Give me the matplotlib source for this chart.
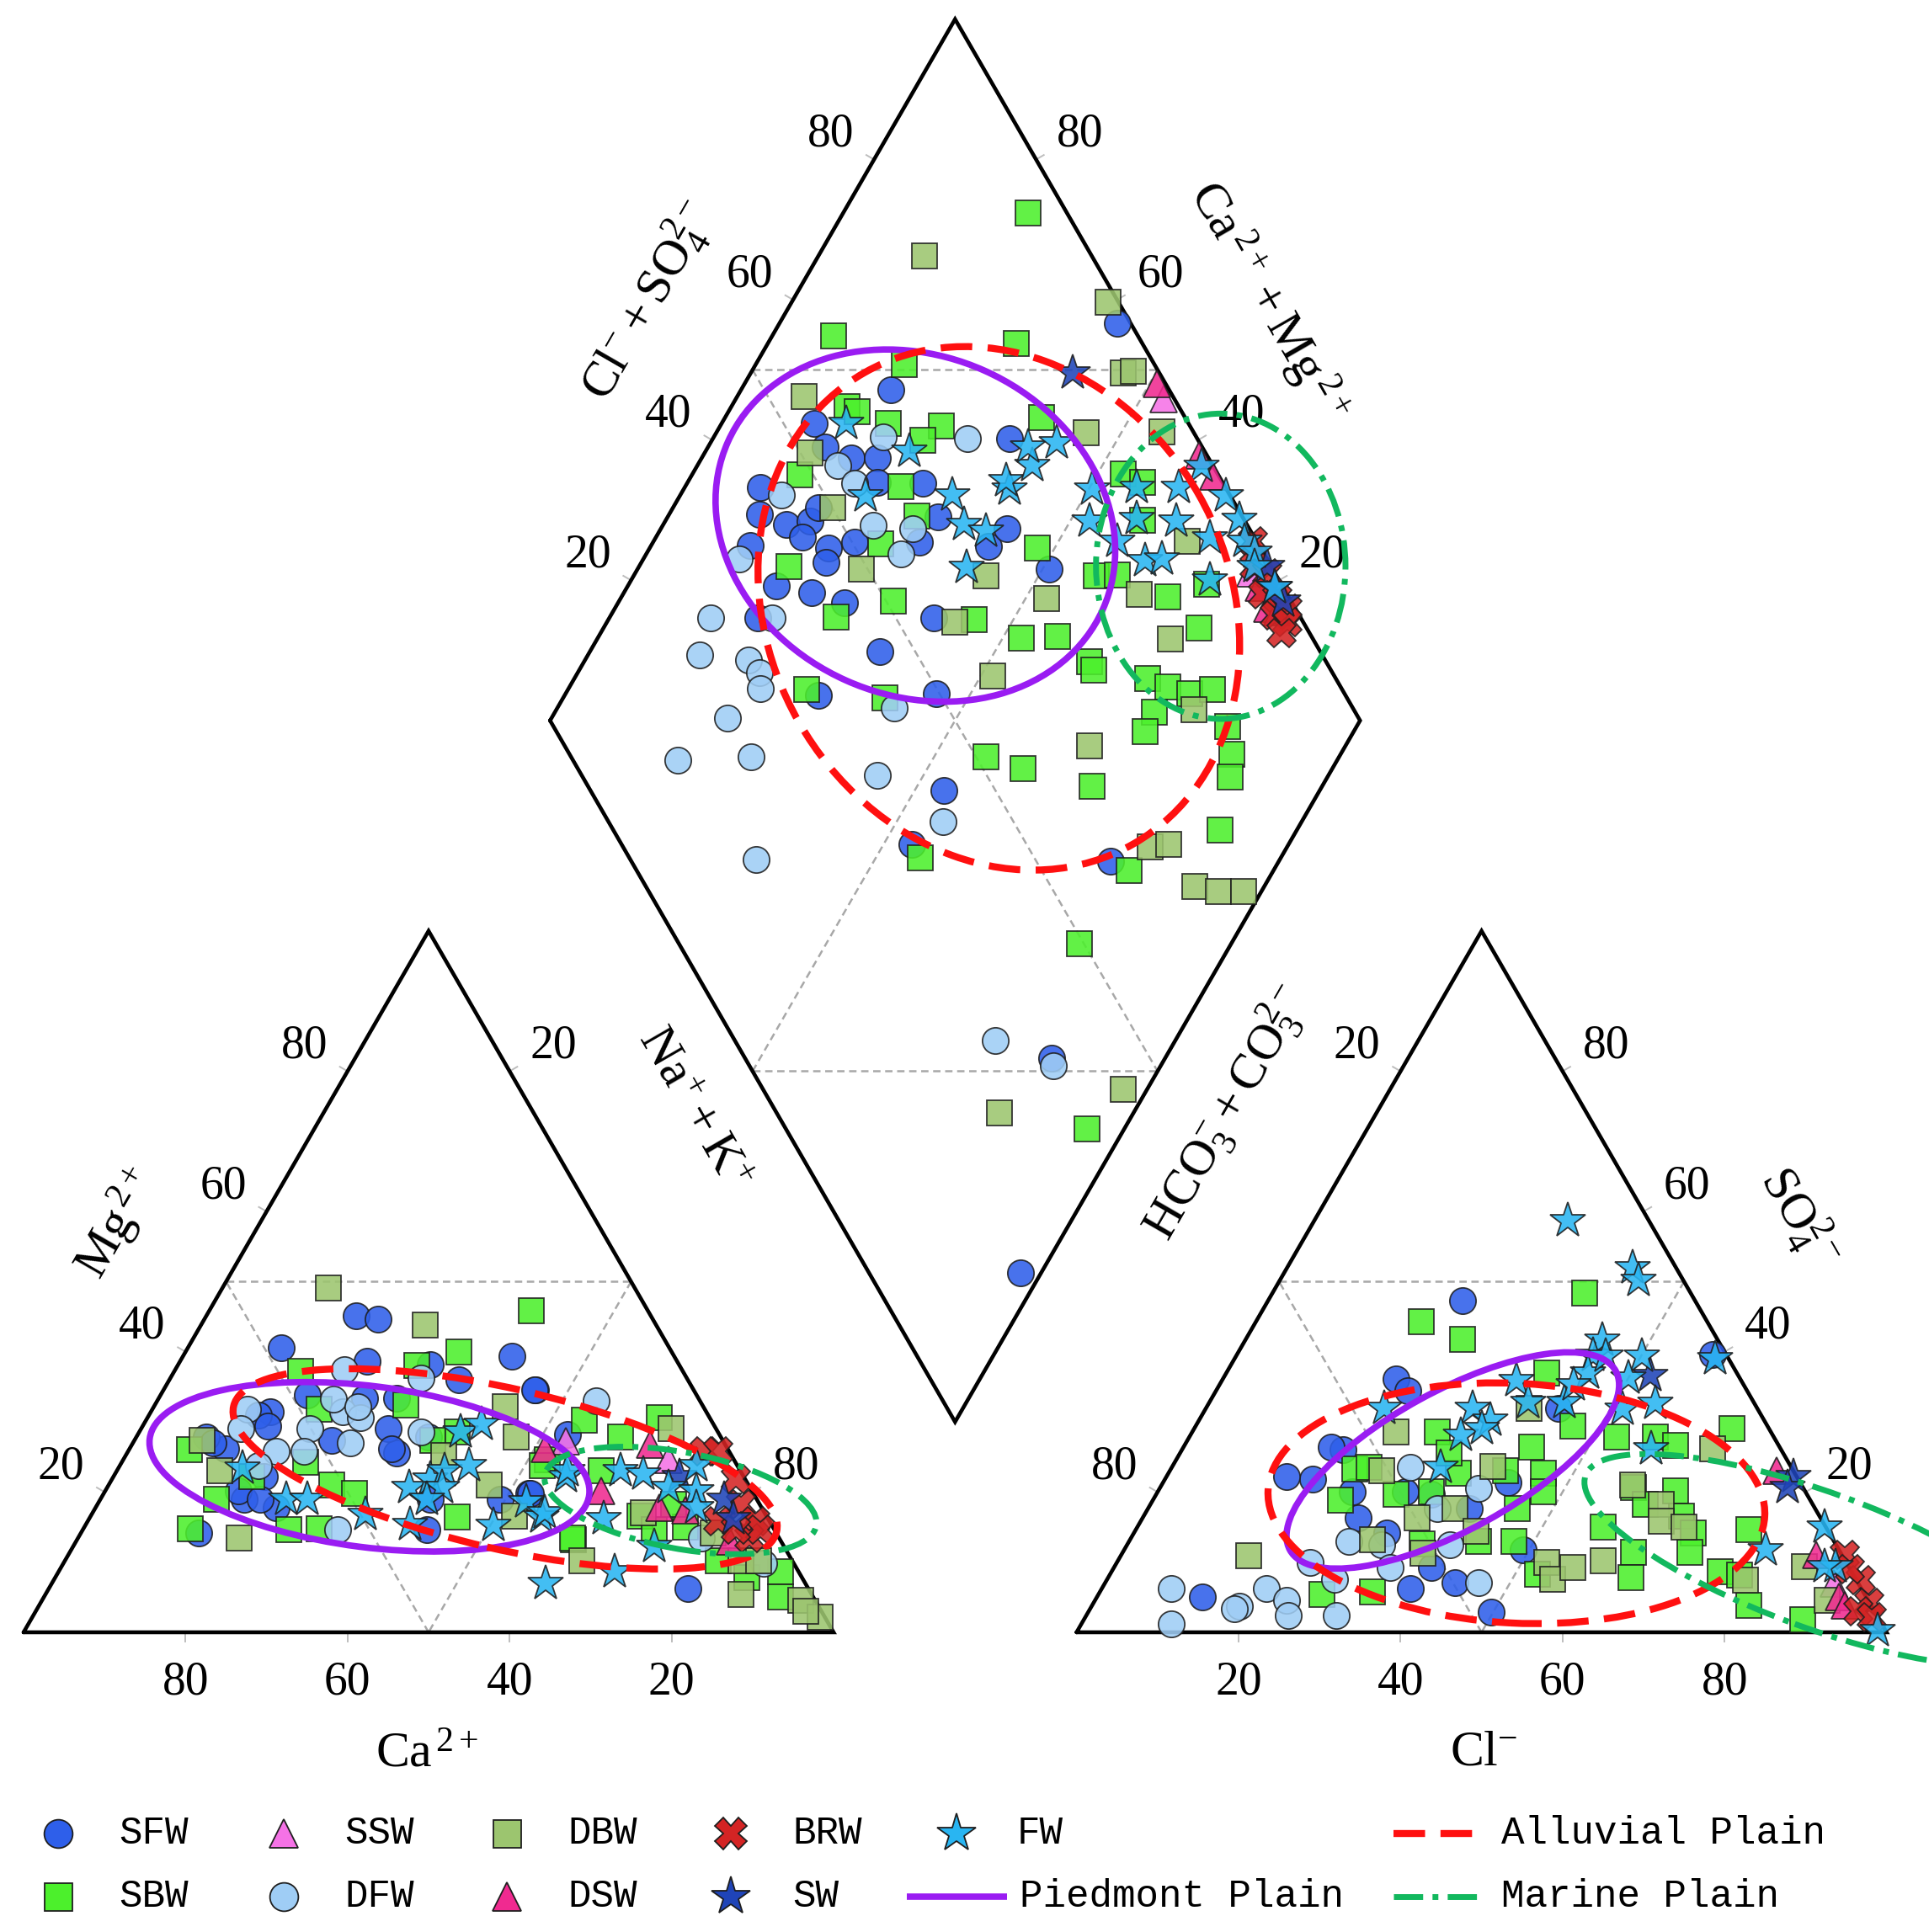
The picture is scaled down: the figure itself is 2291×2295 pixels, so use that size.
import numpy as np
import matplotlib
matplotlib.use("Agg")
import matplotlib.pyplot as plt
from matplotlib.patches import Ellipse

plt.rcParams["font.family"] = ["Liberation Serif", "DejaVu Serif"]
plt.rcParams["mathtext.fontset"] = "custom"
plt.rcParams["mathtext.rm"] = "Liberation Serif"
plt.rcParams["mathtext.it"] = "Liberation Serif:italic"
plt.rcParams["mathtext.bf"] = "Liberation Serif:bold"

# ---------------- data (percent of meq) ----------------
# cation triangle: (Ca2+, Mg2+); Na+ + K+ = 100 - Ca - Mg
SFW_cation = [(36.4,45.1),(33.9,44.7),(47.9,40.6),(38.3,38.6),(20.0,39.4),(28.3,36.0),(19.5,34.6),
              (53.8,31.4),(41.2,33.4),(37.2,33.4),(41.1,25.6),(36.1,27.8),(71.3,14.2),(62.0,26.2),
              (63.3,19.0),(59.2,22.2),(59.9,17.8),(42.9,14.6),(40.3,19.0),(48.3,27.4),(27.7,19.8),
              (63.5,27.8),(63.1,27.0),(63.4,20.2),(61.3,19.0),(31.7,19.0),(19.6,34.6),(14.9,6.2),
              (18.8,28.2),(27.5,19.8),(55.5,31.0),(55.2,29.4),(48.1,33.8),(40.5,29.0),(41.5,26.2),
              (30.7,38.2)]
SBW_cation = [(14.4,45.8),(26.3,40.0),(32.5,38.0),(47.2,37.2),(66.5,26.0),(66.7,19.0),(72.0,14.8),
              (60.0,14.6),(56.1,14.8),(53.1,24.2),(51.5,21.0),(49.2,19.8),(36.6,32.4),(32.2,28.6),
              (38.3,16.4),(15.7,30.2),(25.5,13.2),(23.0,24.6),(47.6,31.8),(35.8,27.4),(60.7,22.2),
              (6.2,30.6),(12.4,27.8),(24.1,23.8),(25.5,13.4),(15.6,16.6),(14.8,14.6),(10.8,15.0),
              (9.1,10.2),(6.8,7.8),(2.2,8.6),(4.0,5.0),(17.2,23.0),(10.6,18.2)]
SSW_cation = [(19.5,27.2),(8.1,24.6)]
DFW_cation = [(41.7,37.4),(32.8,36.2),(56.4,31.8),(58.7,29.0),(44.9,31.4),(43.1,30.6),(50.2,29.0),
              (55.9,25.8),(52.5,25.8),(46.2,27.0),(36.6,28.6),(53.9,14.6),(59.1,23.8),(12.8,33.0),
              (9.6,13.4),(3.7,9.8),(45.1,33.2),(42.6,32.2)]
DBW_cation = [(37.8,49.1),(28.5,43.8),(64.3,27.4),(64.3,23.0),(66.7,13.4),(24.4,32.2),(25.3,27.8),
              (35.5,25.2),(32.0,21.0),(31.1,16.6),(26.0,10.2),(5.6,29.0),(15.0,17.0),(7.8,14.2),
              (6.3,10.2),(8.7,5.4),(1.8,4.6),(0.6,2.2),(4.2,10.2),(1.9,3.0)]
DSW_cation = [(22.6,26.2),(18.6,20.2),(9.3,26.8),(12.6,17.8),(9.6,17.4),(6.3,13.0)]
BRW_cation = [(3.0,25.8),(1.3,25.8),(1.2,21.8),(2.3,18.2),(1.8,15.8),(3.7,13.4),(1.7,14.6),
              (6.3,15.8),(4.8,14.6)]
SW_cation = [(4.0,19.0),(4.3,16.2),(7.9,22.2)]
FW_cation = [(61.3,23.4),(58.1,19.0),(55.5,19.0),(49.4,16.8),(44.6,15.4),(42.1,20.6),(38.9,21.8),
             (36.5,23.0),(31.8,28.6),(28.7,29.6),(33.1,23.8),(34.4,15.2),(28.6,18.6),(32.1,7.0),
             (27.9,16.4),(22.0,22.2),(38.0,20.6),(40.7,19.0),(22.7,8.6),(16.0,12.2),(21.4,23.0),
             (14.8,23.0),(12.2,22.6),(10.1,20.6),(6.8,20.2),(20.3,16.2),(5.0,23.8),(27.2,17.0),
             (8.0,17.8)]

# anion triangle: (Cl-, SO4 2-); HCO3- + CO3 2- = 100 - Cl - SO4
SFW_anion = [(24.0,47.3),(21.4,36.1),(23.7,34.4),(19.9,26.0),(18.3,21.8),(14.8,22.2),(26.6,16.3),
             (31.2,14.2),(38.1,6.2),(39.2,9.2),(43.2,7.1),(49.7,2.9),(13.0,5.0),(42.6,21.4),
             (49.3,11.7),(39.7,17.6),(34.0,19.7),(30.5,20.1),(43.6,31.9),(24.0,20.1),(18.2,26.4),
             (58.7,39.6)]
SBW_anion = [(38.5,48.4),(20.4,44.3),(26.7,41.8),(22.7,23.3),(23.1,18.9),(33.6,5.8),(27.6,5.4),
             (35.8,22.7),(30.2,28.6),(33.2,25.6),(33.8,20.1),(45.6,17.6),(47.5,13.0),(43.0,26.4),
             (46.3,22.7),(47.6,20.1),(46.6,29.4),(39.5,37.0),(52.8,8.3),(29.6,19.7),(24.4,23.5),
             (36.4,12.6),(43.1,13.0),(41.4,23.1),(66.4,29.0),(57.6,27.8),(60.7,26.6),(52.8,27.8),
             (58.5,20.6),(63.9,20.2),(61.1,18.2),(66.4,16.6),(57.5,15.0),(63.1,11.4),(69.0,14.2),
             (70.0,11.4),(64.5,7.8),(75.7,14.6),(75.2,8.6),(77.8,8.2),(81.1,3.8),(88.7,1.8)]
SSW_anion = [(90.0,7.0)]
DFW_anion = [(8.6,6.2),(11.1,1.2),(18.3,3.7),(17.8,3.3),(20.3,6.2),(23.7,4.5),(24.9,2.4),(30.9,2.4),
             (23.8,10.0),(28.1,7.5),(29.5,23.5),(27.1,13.0),(31.4,12.5),(39.8,12.5),(39.4,20.5),
             (35.7,17.6),(34.1,9.2),(46.1,7.1)]
DBW_anion = [(15.8,10.9),(25.1,28.6),(26.1,23.1),(33.9,16.3),(37.9,17.6),(39.5,23.7),(42.1,14.4),
             (29.9,13.2),(37.1,11.3),(53.0,10.0),(55.0,7.5),(56.7,9.2),(39.9,31.9),(65.4,26.2),
             (58.1,21.0),(63.1,18.2),(64.3,15.8),(67.5,15.0),(59.9,10.2),(78.9,7.4),(85.2,9.4),
             (90.4,4.6)]
DSW_anion = [(74.9,23.0),(85.8,11.0),(91.6,5.0),(92.9,3.8)]
BRW_anion = [(89.3,11.0),(93.1,7.4),(95.8,4.2),(95.0,3.0),(97.1,2.2),(91.0,9.0)]
SW_anion = [(52.5,36.6),(77.4,22.2),(77.5,20.6)]
FW_anion = [(31.3,58.7),(44.1,41.6),(44.0,39.5),(36.4,35.9),(32.9,31.9),(36.0,30.2),(39.4,32.8),
            (43.8,32.8),(33.4,28.1),(35.5,29.0),(33.2,23.5),(22.0,31.9),(44.6,37.0),(43.7,35.3),
            (50.1,39.4),(50.0,36.2),(55.2,32.6),(51.5,31.8),(57.8,26.2),(79.2,11.8),(84.8,15.0),
            (89.0,9.4),(98.8,0.2),(87.6,9.4),(59.3,39.0),(45.6,39.4),(42.6,52.0),(44.3,50.2)]

# diamond: (Na+ + K+, Cl- + SO4 2-)
SFW_diamond = [(18.5,65.7),(11.4,53.8),(14.5,53.5),(18.5,55.9),(21.7,59.1),(36.6,76.8),(9.4,42.6),
               (11.2,40.6),(15.2,43.2),(17.9,46.3),(17.9,48.3),(23.4,57.4),(29.1,62.9),(33.4,62.4),
               (18.1,44.3),(22.1,46.7),(24.9,50.3),(32.9,58.3),(12.2,37.2),(22.8,45.4),(41.7,66.5),
               (42.7,70.1),(18.3,37.5),(23.2,41.4),(27.9,44.7),(50.8,72.4),(40.1,54.7),(18.3,32.9),
               (35.8,45.6),(31.3,34.9),(45.8,49.6),(41.7,98.3),(53.6,43.6),(53.5,35.9),(79.2,59.2),
               (86.0,37.8),(97.5,18.7)]
SBW_diamond = [(22.8,95.2),(7.6,62.4),(30.7,84.5),(18.3,69.1),(14.3,59.1),(15.9,59.9),(20.6,63.0),
               (27.3,69.3),(26.0,66.0),(39.1,82.3),(13.3,48.3),(26.6,60.0),(30.7,59.9),(28.2,53.4),
               (47.9,72.5),(18.5,40.5),(33.9,50.9),(27.9,42.7),(45.2,59.6),(52.3,64.1),(56.7,68.7),
               (62.4,70.8),(63.5,70.7),(29.5,33.9),(39.7,42.9),(57.1,77.7),(53.2,88.4),(56.2,90.2),
               (58.9,87.5),(59.6,80.4),(67.5,85.1),(71.4,90.8),(73.5,86.7),(70.8,76.8),(73.9,78.7),
               (77.1,80.9),(79.6,84.0),(74.0,75.2),(84.0,83.2),(74.3,72.7),(56.4,51.2),(61.8,55.0),
               (71.6,62.2),(90.5,74.9),(82.2,60.8),(81.3,49.5),(95.4,37.2),(86.6,81.8),(88.0,80.0),
               (55.5,35.9)]
SSW_diamond = [(52.9,98.7),(76.0,97.0)]
DFW_diamond = [(20.9,61.3),(31.4,71.6),(17.3,53.7),(20.7,54.5),(12.5,44.7),(26.0,53.8),(31.1,58.5),
               (31.4,55.2),(11.9,34.9),(20.1,34.7),(12.5,27.1),(13.8,23.2),(20.2,28.8),(22.5,29.3),
               (23.7,28.3),(41.6,43.4),(21.7,22.1),(18.6,13.0),(27.4,22.2),(35.3,15.5),(44.3,36.5),
               (55.7,41.3),(77.8,32.2),(86.7,37.5)]
DBW_diamond = [(13.1,79.3),(39.1,98.7),(46.0,95.6),(47.1,96.9),(8.3,54.5),(13.0,51.2),(45.7,86.7),
               (19.7,50.1),(27.6,49.2),(43.5,64.1),(52.6,70.0),(43.0,57.0),(51.4,57.8),(54.9,96.1),
               (65.9,91.5),(63.7,81.7),(70.8,82.4),(78.7,80.3),(68.4,64.8),(83.1,65.1),(85.2,67.6),
               (91.4,67.8),(94.7,70.3),(97.8,73.4),(97.1,44.5),(83.5,27.5)]
DSW_diamond = [(50.9,98.9),(61.2,99.0),(64.5,99.3),(80.5,96.5),(78.0,97.0),(82.0,97.5)]
BRW_diamond = [(74.0,99.5),(76.0,98.0),(78.0,99.0),(79.0,97.0),(81.0,98.5),(82.0,97.0),(83.0,99.0),
               (84.0,98.0),(84.0,96.5)]
SW_diamond = [(39.7,89.3),(77.5,99.5),(80.0,99.0),(82.0,99.0)]
FW_diamond = [(15.4,57.8),(25.2,63.6),(23.0,55.0),(33.6,65.8),(40.2,73.2),(39.2,73.4),(41.3,77.7),
              (39.5,78.5),(42.7,82.3),(37.1,65.1),(40.3,67.3),(40.5,62.3),(50.4,83.4),(55.8,89.0),
              (61.0,94.2),(62.3,98.5),(67.4,99.5),(70.8,99.5),(52.4,80.8),(58.0,86.8),(63.1,91.5),
              (68.5,94.5),(72.9,98.5),(57.2,82.8),(62.1,84.9),(64.0,87.0),(71.5,91.5),(75.0,99.0),
              (80.0,99.0),(76.0,98.0)]

series = ["SFW", "SBW", "SSW", "DFW", "DBW", "DSW", "BRW", "SW", "FW"]
cation_data = dict(SFW=SFW_cation, SBW=SBW_cation, SSW=SSW_cation, DFW=DFW_cation, DBW=DBW_cation,
                   DSW=DSW_cation, BRW=BRW_cation, SW=SW_cation, FW=FW_cation)
anion_data = dict(SFW=SFW_anion, SBW=SBW_anion, SSW=SSW_anion, DFW=DFW_anion, DBW=DBW_anion,
                  DSW=DSW_anion, BRW=BRW_anion, SW=SW_anion, FW=FW_anion)
diamond_data = dict(SFW=SFW_diamond, SBW=SBW_diamond, SSW=SSW_diamond, DFW=DFW_diamond,
                    DBW=DBW_diamond, DSW=DSW_diamond, BRW=BRW_diamond, SW=SW_diamond, FW=FW_diamond)

# zone ellipses: (panel, centre in panel percentages, width, height, angle)
zone_names = ["Piedmont Plain", "Alluvial Plain", "Marine Plain"]
piedmont_zones = [("diamond", (31.2, 59.0), 50.7, 41.9, -24.1),
                  ("cation", (45.5, 23.6), 54.7, 19.9, -7.3),
                  ("anion", (34.2, 24.5), 45.9, 17.1, 28.8)]
alluvial_zones = [("diamond", (47.4, 63.4), 67.0, 56.8, 119.7),
                  ("cation", (28.9, 23.3), 68.8, 19.8, -13.0),
                  ("anion", (45.1, 18.4), 61.4, 29.6, -3.0)]
marine_zones = [("diamond", (71.8, 93.8), 30.8, 37.7, 0.0),
                ("cation", (9.5, 18.8), 34.1, 11.9, -10.6),
                ("anion", (86.4, 10.3), 61.1, 16.8, -20.0)]

tick_values = [20, 40, 60, 80]

# ---------------- styles ----------------
STYLE = {
    "SFW": dict(marker="o", color="#2E5FEA", ms=22.5),
    "SBW": dict(marker="s", color="#4CF02C", ms=22),
    "SSW": dict(marker="^", color="#F572E6", ms=23),
    "DFW": dict(marker="o", color="#9FCDF5", ms=22.5),
    "DBW": dict(marker="s", color="#9CC56F", ms=22),
    "DSW": dict(marker="^", color="#F02A90", ms=23),
    "BRW": dict(marker="X", color="#D42424", ms=25),
    "SW": dict(marker="*", color="#1F44B8", ms=32),
    "FW": dict(marker="*", color="#29B5F2", ms=32),
}
ZONE_STYLE = {
    "Piedmont Plain": dict(color="#9A1CF2", lw=5.5, ls="-"),
    "Alluvial Plain": dict(color="#FF1010", lw=6.0, ls=(0, (4.5, 2.2))),
    "Marine Plain": dict(color="#12B85E", lw=5.0, ls=(0, (5.0, 1.6, 1.0, 1.6))),
}

H = np.sqrt(3) / 2
GAP = 30.0


def cat_xy(pts):
    a = np.array(pts, float).reshape(-1, 2)
    ca, mg = a[:, 0], a[:, 1]
    nak = 100 - ca - mg
    return nak + mg / 2, mg * H


def an_xy(pts):
    a = np.array(pts, float).reshape(-1, 2)
    cl, so4 = a[:, 0], a[:, 1]
    return 100 + GAP + cl + so4 / 2, so4 * H


def dia_xy(pts):
    a = np.array(pts, float).reshape(-1, 2)
    n, c = a[:, 0], a[:, 1]
    return (n + 100 + GAP + c) / 2, H * (100 + GAP + c - n)


PANEL = dict(cation=cat_xy, anion=an_xy, diamond=dia_xy)

fig = plt.figure(figsize=(22.91, 22.95), dpi=100)
ax = fig.add_axes([0, 0, 1, 1])
ax.set_xlim(-2.911, 235.24)
ax.set_ylim(-37.01, 201.56)
ax.axis("off")

# ---------------- frame ----------------
def seg(p, q, **kw):
    ax.plot([p[0], q[0]], [p[1], q[1]], **kw)

P = lambda f, a, b: tuple(v[0] for v in f([(a, b)]))

outline = dict(color="black", lw=3.3, zorder=2, solid_capstyle="round", solid_joinstyle="miter")
L0, L1, L2 = P(cat_xy, 100, 0), P(cat_xy, 0, 0), P(cat_xy, 0, 100)
R0, R1, R2 = P(an_xy, 0, 0), P(an_xy, 100, 0), P(an_xy, 0, 100)
D0, D1, D2, D3 = P(dia_xy, 0, 0), P(dia_xy, 0, 100), P(dia_xy, 100, 100), P(dia_xy, 100, 0)
for tri in ([L0, L1, L2], [R0, R1, R2], [D0, D1, D2, D3]):
    xs = [p[0] for p in tri] + [tri[0][0]]
    ys = [p[1] for p in tri] + [tri[0][1]]
    ax.plot(xs, ys, **outline)

grid = dict(color="#A8A8A8", lw=1.8, ls=(0, (3.5, 2.2)), zorder=1)
# medial triangles
for f, pts in ((cat_xy, [(50, 50), (0, 50), (50, 0)]), (an_xy, [(0, 50), (50, 50), (50, 0)])):
    ps = [P(f, *q) for q in pts]
    seg(ps[0], ps[1], **grid); seg(ps[1], ps[2], **grid); seg(ps[2], ps[0], **grid)
seg(P(dia_xy, 0, 50), P(dia_xy, 50, 100), **grid)
seg(P(dia_xy, 50, 0), P(dia_xy, 100, 50), **grid)
seg(P(dia_xy, 0, 50), P(dia_xy, 100, 50), **grid)
seg(P(dia_xy, 50, 0), P(dia_xy, 50, 100), **grid)

# ---------------- tick labels ----------------
TFS = 40
OFF = 6.2
NL = np.array([-H, 0.5])
NR = np.array([H, 0.5])
tickline = dict(color="#BDBDBD", lw=1.4, zorder=1)


def label(p, nvec, v):
    p = np.array(p)
    t = p + OFF * nvec
    seg(p, p + 1.1 * nvec, **tickline)
    ax.text(t[0], t[1], str(v), fontsize=TFS, ha="center", va="center")


for v in tick_values:
    label(P(cat_xy, v, 0), np.array([0, -1]), v)           # Ca2+ bottom
    label(P(cat_xy, 100 - v, v), NL, v)                    # Mg2+ left edge
    label(P(an_xy, v, 0), np.array([0, -1]), v)            # Cl- bottom
    label(P(an_xy, 100 - v, v), NR, v)                     # SO4 right edge
    label(P(dia_xy, 0, v), NL, v)                          # Cl+SO4 upper-left
    label(P(dia_xy, 100 - v, 100), NR, v)                  # Ca+Mg upper-right
for v in (20, 80):
    label(P(cat_xy, 0, 100 - v), NR, v)                    # Na+K right edge
    label(P(an_xy, 0, 100 - v), NL, v)                     # HCO3 left edge

# ---------------- axis titles ----------------
AFS = 43
titles = [
    (77.1, 164.4, 60, r"$\mathregular{Cl^{-}+SO_4^{2-}}$"),
    (153.6, 164.2, -60, r"$\mathregular{Ca^{\,2+}+Mg^{\,2+}}$"),
    (82.6, 64.6, -60, r"$\mathregular{Na^{+}+K^{+}}$"),
    (148.5, 64.2, 60, r"$\mathregular{HCO_3^{-}+CO_3^{2-}}$"),
    (11.6, 50.4, 60, r"$\mathregular{Mg^{\,2+}}$"),
    (219.2, 51.2, -60, r"$\mathregular{SO_4^{2-}}$"),
    (49.8, -15.2, 0, r"$\mathregular{Ca^{\,2+}}$"),
    (180.3, -14.9, 0, r"$\mathregular{Cl^{-}}$"),
]
for x, y, r, s in titles:
    ax.text(x, y, s, fontsize=AFS, rotation=r, ha="center", va="center", rotation_mode="anchor")

# ---------------- points ----------------
for k, name in enumerate(series):
    st = STYLE[name]
    for panel, data in (("cation", cation_data), ("anion", anion_data), ("diamond", diamond_data)):
        pts = data[name]
        if len(pts) == 0:
            continue
        x, y = PANEL[panel](pts)
        ax.plot(x, y, ls="none", marker=st["marker"], ms=st["ms"], mfc=st["color"],
                mec="#1E1E1E", mew=1.3, alpha=0.88, zorder=3 + k * 0.1)

# ---------------- zone ellipses ----------------
for zname, zones in zip(zone_names, (piedmont_zones, alluvial_zones, marine_zones)):
    zs = ZONE_STYLE[zname]
    for panel, centre, w, h, ang in zones:
        cx, cy = P(PANEL[panel], *centre)
        e = Ellipse((cx, cy), w, h, angle=ang, fill=False, edgecolor=zs["color"],
                    lw=zs["lw"], ls=zs["ls"], zorder=10)
        ax.add_patch(e)

# ---------------- legend ----------------
LFS = 33
lfont = dict(fontsize=LFS, family=["Liberation Mono", "DejaVu Sans Mono"], va="center", ha="left")
row1, row2 = -24.84, -32.64
legend_items = [
    ("SFW", 4.26, 11.8, row1), ("SBW", 4.26, 11.8, row2),
    ("SSW", 32.1, 39.6, row1), ("DFW", 32.1, 39.6, row2),
    ("DBW", 59.7, 67.2, row1), ("DSW", 59.7, 67.2, row2),
    ("BRW", 87.3, 94.9, row1), ("SW", 87.3, 94.9, row2),
    ("FW", 115.2, 122.6, row1),
]
for name, mx, tx, ry in legend_items:
    st = STYLE[name]
    ax.plot([mx], [ry], ls="none", marker=st["marker"], ms=st["ms"] * 1.08, mfc=st["color"],
            mec="#1E1E1E", mew=1.3, zorder=5)
    ax.text(tx, ry, name, **lfont)

zone_legend = [("Piedmont Plain", 109.0, 121.4, 123.0, row2),
               ("Alluvial Plain", 169.1, 180.4, 182.4, row1),
               ("Marine Plain", 169.1, 180.4, 182.4, row2)]
for zname, x0, x1, tx, ry in zone_legend:
    zs = ZONE_STYLE[zname]
    ax.plot([x0, x1], [ry, ry], color=zs["color"], lw=zs["lw"], ls=zs["ls"],
            solid_capstyle="butt", dash_capstyle="butt", zorder=5)
    ax.text(tx, ry, zname, **lfont)

fig.savefig("out.png", dpi=100)
